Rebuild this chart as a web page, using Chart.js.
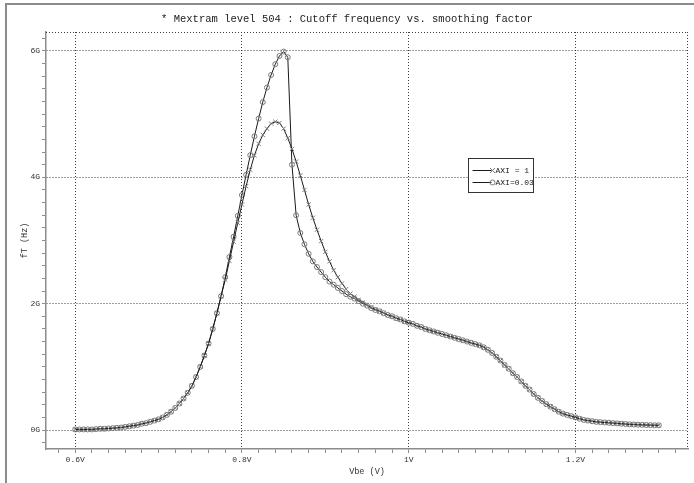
<!DOCTYPE html>
<html><head><meta charset="utf-8">
<script src="https://cdn.jsdelivr.net/npm/chart.js@4.4.1/dist/chart.umd.min.js"></script>
<style>
html,body{margin:0;padding:0;background:#fff;overflow:hidden;}
#frame{position:absolute;left:5px;top:3px;width:700px;height:500px;border-left:2px solid #8c8c8c;border-top:2px solid #8c8c8c;}
#c{position:absolute;left:0;top:0;}
</style></head><body>
<div id="frame"></div>
<canvas id="c" width="694" height="483"></canvas>
<script>
const chartTitle = '* Mextram level 504 : Cutoff frequency vs. smoothing factor';
const xAxisTitle = 'Vbe (V)';
const yAxisTitle = 'fT (Hz)';
const xTickValues = [0.6, 0.8, 1.0, 1.2];
const xTickLabels = ['0.6V', '0.8V', '1V', '1.2V'];
const yTickValues = [0, 2, 4, 6];
const yTickLabels = ['0G', '2G', '4G', '6G'];
const legendLabels = ['AXI = 1', 'AXI=0.03'];

const vbe = [
  0.600,0.605,0.610,0.615,0.620,0.625,0.630,0.635,0.640,0.645,
  0.650,0.655,0.660,0.665,0.670,0.675,0.680,0.685,0.690,0.695,
  0.700,0.705,0.710,0.715,0.720,0.725,0.730,0.735,0.740,0.745,
  0.750,0.755,0.760,0.765,0.770,0.775,0.780,0.785,0.790,0.795,
  0.800,0.805,0.810,0.815,0.820,0.825,0.830,0.835,0.840,0.845,
  0.850,0.855,0.860,0.865,0.870,0.875,0.880,0.885,0.890,0.895,
  0.900,0.905,0.910,0.915,0.920,0.925,0.930,0.935,0.940,0.945,
  0.950,0.955,0.960,0.965,0.970,0.975,0.980,0.985,0.990,0.995,
  1.000,1.005,1.010,1.015,1.020,1.025,1.030,1.035,1.040,1.045,
  1.050,1.055,1.060,1.065,1.070,1.075,1.080,1.085,1.090,1.095,
  1.100,1.105,1.110,1.115,1.120,1.125,1.130,1.135,1.140,1.145,
  1.150,1.155,1.160,1.165,1.170,1.175,1.180,1.185,1.190,1.195,
  1.200,1.205,1.210,1.215,1.220,1.225,1.230,1.235,1.240,1.245,
  1.250,1.255,1.260,1.265,1.270,1.275,1.280,1.285,1.290,1.295,
  1.300
];

// fT in GHz, 0.600 .. 0.775 V (both curves coincide)
const ftLowCommon = [
  0.01,0.01,0.01,0.01,0.01,0.015,0.02,0.02,0.025,0.03,
  0.035,0.04,0.05,0.06,0.07,0.08,0.10,0.11,0.13,0.15,
  0.17,0.20,0.24,0.29,0.35,0.42,0.50,0.59,0.70,0.84,
  1.00,1.18,1.37,1.60,1.85,2.12
];
// 0.780 .. 0.960 V
const ftPeakAxi1 = [
  2.38,2.68,2.98,3.28,3.57,3.86,4.12,4.35,4.53,4.67,
  4.77,4.85,4.88,4.86,4.77,4.62,4.45,4.25,4.03,3.80,
  3.57,3.36,3.17,2.99,2.82,2.67,2.53,2.42,2.32,2.23,
  2.16,2.11,2.06,2.02,1.98,1.94,1.91
];
const ftPeakAxi003 = [
  2.42,2.74,3.06,3.39,3.72,4.04,4.35,4.65,4.93,5.19,
  5.42,5.62,5.79,5.92,5.99,5.90,4.20,3.40,3.12,2.94,
  2.79,2.67,2.58,2.50,2.42,2.35,2.30,2.25,2.20,2.15,
  2.11,2.08,2.04,2.00,1.97,1.93,1.90
];
// 0.965 .. 1.300 V (both curves coincide)
const ftHighCommon = [
  1.88,1.85,1.82,1.80,1.77,1.75,1.72,1.70,
  1.68,1.65,1.63,1.60,1.58,1.56,1.54,1.52,1.50,1.48,
  1.46,1.44,1.42,1.40,1.38,1.36,1.34,1.31,1.27,1.22,
  1.16,1.10,1.03,0.97,0.90,0.84,0.77,0.70,0.64,0.57,
  0.51,0.46,0.41,0.37,0.33,0.29,0.26,0.24,0.22,0.20,
  0.18,0.16,0.15,0.14,0.13,0.125,0.12,0.115,0.11,0.105,
  0.10,0.095,0.09,0.088,0.085,0.082,0.08,0.078,0.076,0.075
];

const ftAxi1 = ftLowCommon.concat(ftPeakAxi1, ftHighCommon);
const ftAxi003 = ftLowCommon.concat(ftPeakAxi003, ftHighCommon);

const toPoints = (ys) => vbe.map((x, i) => ({x: x, y: ys[i]}));
const near = (a, b) => Math.abs(a - b) < 1e-6;
const xMajor = (v) => xTickValues.some(t => near(t, v));
const yMajor = (v) => yTickValues.some(t => near(t, v));

const FONT = "'Liberation Mono', 'DejaVu Sans Mono', monospace";
const LINE = '#1a1a1a';
const MARK = '#7a7a7a';
const GRID = '#3a3a3a';
const AXIS = '#8c8c8c';

const extras = {
  id: 'extras',
  beforeDatasetsDraw(chart) {
    const {ctx, chartArea: a} = chart;
    ctx.save();
    ctx.strokeStyle = GRID;
    ctx.lineWidth = 1;
    ctx.setLineDash([1, 2]);
    ctx.beginPath();
    ctx.moveTo(a.left, a.top + 0.5);
    ctx.lineTo(a.right, a.top + 0.5);
    ctx.moveTo(a.right - 0.5, a.top);
    ctx.lineTo(a.right - 0.5, a.bottom);
    ctx.stroke();
    ctx.restore();
  },
  afterDraw(chart) {
    const {ctx} = chart;
    ctx.save();
    // title
    ctx.fillStyle = '#222';
    ctx.font = '10.5px ' + FONT;
    ctx.textAlign = 'center';
    ctx.textBaseline = 'middle';
    ctx.fillText(chartTitle, 347, 19);
    // legend
    const bx = 468.5, by = 158.5, bw = 65, bh = 34;
    ctx.fillStyle = '#fff';
    ctx.fillRect(bx, by, bw, bh);
    ctx.strokeStyle = '#333';
    ctx.lineWidth = 1;
    ctx.strokeRect(bx, by, bw, bh);
    chart.data.datasets.forEach((ds, i) => {
      const y = by + 12 + i * 12;
      ctx.strokeStyle = LINE;
      ctx.lineWidth = 1;
      ctx.beginPath();
      ctx.moveTo(bx + 4, y);
      ctx.lineTo(bx + 23, y);
      ctx.stroke();
      ctx.strokeStyle = MARK;
      ctx.beginPath();
      const mx = bx + 24;
      if (ds.pointStyle === 'circle') {
        ctx.arc(mx, y, 2.5, 0, Math.PI * 2);
      } else {
        ctx.moveTo(mx - 2.5, y - 2.5); ctx.lineTo(mx + 2.5, y + 2.5);
        ctx.moveTo(mx - 2.5, y + 2.5); ctx.lineTo(mx + 2.5, y - 2.5);
      }
      ctx.stroke();
      ctx.fillStyle = '#222';
      ctx.font = '8px ' + FONT;
      ctx.textAlign = 'left';
      ctx.fillText(legendLabels[i], bx + 27, y + 0.5);
    });
    ctx.restore();
  }
};

new Chart(document.getElementById('c'), {
  type: 'scatter',
  data: {
    datasets: [
      {
        label: legendLabels[0],
        data: toPoints(ftAxi1),
        showLine: true,
        borderColor: LINE,
        borderWidth: 1,
        pointStyle: 'crossRot',
        pointRadius: 3,
        pointBorderColor: MARK,
        pointBackgroundColor: 'rgba(0,0,0,0)',
        pointBorderWidth: 1,
        tension: 0
      },
      {
        label: legendLabels[1],
        data: toPoints(ftAxi003),
        showLine: true,
        borderColor: LINE,
        borderWidth: 1,
        pointStyle: 'circle',
        pointRadius: 2.5,
        pointBorderColor: MARK,
        pointBackgroundColor: 'rgba(0,0,0,0)',
        pointBorderWidth: 1,
        tension: 0
      }
    ]
  },
  options: {
    responsive: false,
    animation: false,
    devicePixelRatio: 1,
    layout: {padding: {left: 0, top: 32, right: 6, bottom: 0}},
    plugins: {legend: {display: false}, title: {display: false}, tooltip: {enabled: false}},
    scales: {
      x: {
        type: 'linear',
        min: 0.565,
        max: 1.335,
        afterBuildTicks(scale) {
          const t = [];
          for (let k = 29; k <= 66; k++) t.push({value: k * 0.02});
          scale.ticks = t;
        },
        afterFit(scale) { scale.height = 34; },
        ticks: {
          autoSkip: false,
          maxRotation: 0,
          padding: 2,
          color: '#333',
          font: {family: FONT, size: 8},
          callback(v) {
            const i = xTickValues.findIndex(t => near(t, v));
            return i >= 0 ? xTickLabels[i] : '';
          }
        },
        grid: {
          color: (c) => (c.tick && xMajor(c.tick.value)) ? GRID : 'rgba(0,0,0,0)',
          tickColor: AXIS,
          tickLength: 4,
          lineWidth: 1
        },
        border: {display: true, color: AXIS, width: 1.5, dash: [1, 2]},
        title: {display: true, text: xAxisTitle, color: '#333', font: {family: FONT, size: 8.5}, padding: {top: 0, bottom: 6}}
      },
      y: {
        type: 'linear',
        min: -0.3,
        max: 6.3,
        afterBuildTicks(scale) {
          const t = [];
          for (let k = -1; k <= 31; k++) t.push({value: k * 0.2});
          scale.ticks = t;
        },
        afterFit(scale) { scale.width = 46; },
        ticks: {
          autoSkip: false,
          padding: 2,
          color: '#333',
          font: {family: FONT, size: 8},
          callback(v) {
            const i = yTickValues.findIndex(t => near(t, v));
            return i >= 0 ? yTickLabels[i] : '';
          }
        },
        grid: {
          color: (c) => (c.tick && yMajor(c.tick.value)) ? GRID : 'rgba(0,0,0,0)',
          tickColor: AXIS,
          tickLength: 4,
          lineWidth: 1
        },
        border: {display: true, color: AXIS, width: 1.5, dash: [1, 2]},
        title: {display: true, text: yAxisTitle, color: '#333', font: {family: FONT, size: 8.5}, padding: {top: 20, bottom: 0}}
      }
    }
  },
  plugins: [extras]
});
</script>
</body></html>
